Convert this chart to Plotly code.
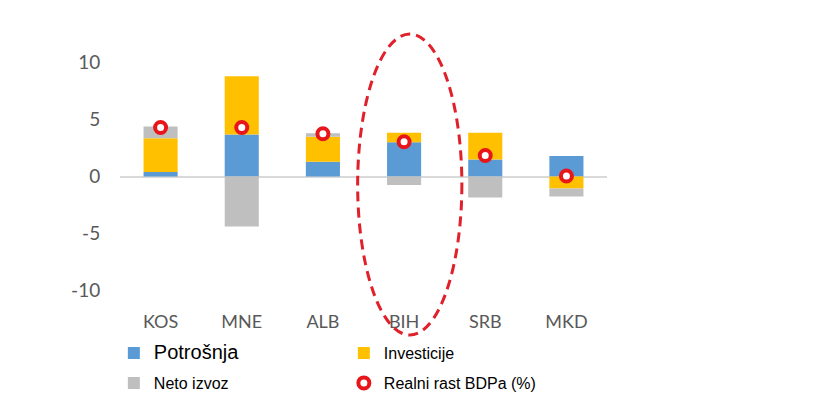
import plotly.graph_objects as go

categories = ["KOS", "MNE", "ALB", "BIH", "SRB", "MKD"]
potrosnja = [0.4, 3.7, 1.3, 3.0, 1.5, 1.8]
investicije = [2.95, 5.1, 2.2, 0.85, 2.35, -1.05]
neto_izvoz = [1.05, -4.4, 0.3, -0.75, -1.85, -0.7]
rast_bdp = [4.3, 4.3, 3.75, 3.05, 1.85, 0.05]
y_ticks = [-10, -5, 0, 5, 10]
y_tick_labels = ["-10", "-5", "0", "5", "10"]

BLUE = "#5b9bd5"
YELLOW = "#ffc000"
GRAY = "#bfbfbf"
RED = "#e8161b"

fig = go.Figure()
fig.add_trace(go.Bar(x=categories, y=potrosnja, name='<span style="font-size:20px">Potrošnja</span>',
                     marker=dict(color=BLUE, line=dict(width=0)), legend="legend"))
fig.add_trace(go.Bar(x=categories, y=investicije, name="Investicije",
                     marker=dict(color=YELLOW, line=dict(width=0)), legend="legend"))
fig.add_trace(go.Bar(x=categories, y=neto_izvoz, name="Neto izvoz",
                     marker=dict(color=GRAY, line=dict(width=0)), legend="legend2"))
fig.add_trace(go.Scatter(x=categories, y=rast_bdp, name="Realni rast BDPa (%)", mode="markers",
                         marker=dict(symbol="circle", size=11, color="white",
                                     line=dict(color=RED, width=4)), legend="legend2"))

# dashed ellipse highlighting BIH (paper coordinates so it is not clipped)
fig.add_shape(type="circle", xref="paper", yref="paper", x0=0.488, x1=0.702, y0=-0.163, y1=1.096,
              line=dict(color="#e0202a", width=3, dash="10px,6px"), fillcolor="rgba(0,0,0,0)",
              layer="above")

legend_common = dict(orientation="h", xref="container", yref="container", xanchor="left",
                     yanchor="middle", entrywidth=185, entrywidthmode="pixels",
                     font=dict(family="Liberation Sans, Arial, sans-serif", size=16, color="#000000"),
                     bgcolor="rgba(0,0,0,0)", traceorder="normal")

# the page body has an 8px margin, so the figure is sized 808x390 and laid out 8px up/left
fig.update_layout(
    width=808, height=390,
    margin=dict(l=112, r=209, t=49, b=102, autoexpand=False),
    paper_bgcolor="white", plot_bgcolor="white",
    barmode="relative", bargap=0.58,
    font=dict(family="Lato, Calibri, sans-serif", size=17, color="#595959"),
    legend=dict(x=0.131, y=1 - 345 / 390, **legend_common),
    legend2=dict(x=0.131, y=1 - 375 / 390, **legend_common),
    xaxis=dict(showgrid=False, showline=False, ticks="outside", ticklen=9,
               tickcolor="rgba(0,0,0,0)", tickfont=dict(size=18, color="#595959")),
    yaxis=dict(range=[-10.5, 10.5], tickvals=y_ticks, ticktext=y_tick_labels,
               showgrid=False, showline=False,
               zeroline=True, zerolinecolor="#d9d9d9", zerolinewidth=2,
               ticks="outside", ticklen=15, tickcolor="rgba(0,0,0,0)",
               tickfont=dict(size=19, color="#595959")),
)

fig.write_html("out.html")
